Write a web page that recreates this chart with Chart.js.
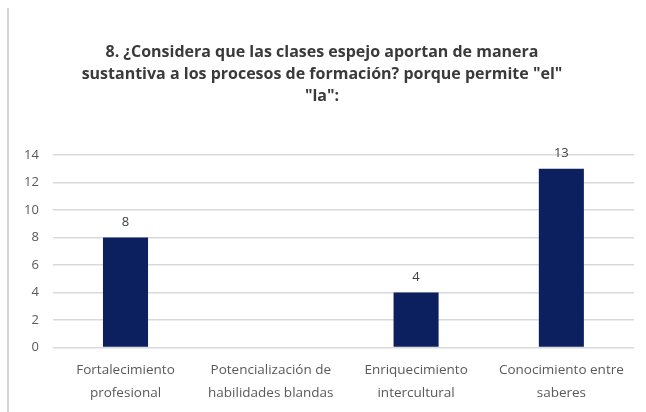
<!DOCTYPE html>
<html>
<head>
<meta charset="utf-8">
<script src="https://cdn.jsdelivr.net/npm/chart.js@4"></script>
<style>
  html, body { margin: 0; padding: 0; background: #fff; }
  #wrap { position: relative; width: 646px; height: 412px; }
  #edge { position: absolute; left: 7px; top: 8px; width: 2px; height: 404px; background: #d6d6d6; }
</style>
</head>
<body>
<div id="wrap">
  <div id="edge"></div>
  <canvas id="chart" width="646" height="412"></canvas>
</div>
<script>
const titleLines = [
  "8. ¿Considera que las clases espejo aportan de manera",
  "sustantiva a los procesos de formación? porque permite \"el\"",
  "\"la\":",
];
const categories = [
  ["Fortalecimiento", "profesional"],
  ["Potencialización de", "habilidades blandas"],
  ["Enriquecimiento", "intercultural"],
  ["Conocimiento entre", "saberes"],
];
const values = [8, 0, 4, 13];
const yTicks = [0, 2, 4, 6, 8, 10, 12, 14];

const FONT = "'Open Sans', Lato, sans-serif";

// value labels above bars (skips zeros, like the original)
const barLabels = {
  id: "barLabels",
  afterDatasetsDraw(chart) {
    const { ctx } = chart;
    const meta = chart.getDatasetMeta(0);
    ctx.save();
    ctx.font = "13px " + FONT;
    ctx.fillStyle = "#404040";
    ctx.textAlign = "center";
    ctx.textBaseline = "bottom";
    meta.data.forEach((bar, i) => {
      if (!values[i]) return;
      ctx.fillText(String(values[i]), bar.x, bar.y - 9);
    });
    ctx.restore();
  },
};

const ctx = document.getElementById("chart");

new Chart(ctx, {
  type: "bar",
  data: {
    labels: categories,
    datasets: [
      {
        data: values,
        backgroundColor: "#0c1f5e",
        barPercentage: 0.62,
        categoryPercentage: 0.5,
      },
    ],
  },
  options: {
    responsive: false,
    animation: false,
    layout: { padding: { left: 10, right: 12, top: 41, bottom: 4 } },
    plugins: {
      legend: { display: false },
      tooltip: { enabled: false },
      title: {
        display: true,
        text: titleLines,
        color: "#3a3a3a",
        font: { family: FONT, size: 16, weight: "bold", lineHeight: 1.375 },
        padding: { top: 0, bottom: 48 },
      },
    },
    scales: {
      x: {
        grid: { display: false },
        border: { display: false },
        ticks: {
          color: "#595959",
          padding: 4,
          maxRotation: 0,
          font: { family: FONT, size: 13.5, lineHeight: 1.65 },
        },
      },
      y: {
        min: 0,
        max: 14,
        afterBuildTicks: (axis) => {
          axis.ticks = yTicks.map((v) => ({ value: v }));
        },
        grid: { color: "#d9d9d9", lineWidth: 1.5, drawTicks: false },
        border: { display: false },
        ticks: {
          color: "#595959",
          padding: 14,
          font: { family: FONT, size: 13 },
        },
      },
    },
  },
  plugins: [barLabels],
});
</script>
</body>
</html>
